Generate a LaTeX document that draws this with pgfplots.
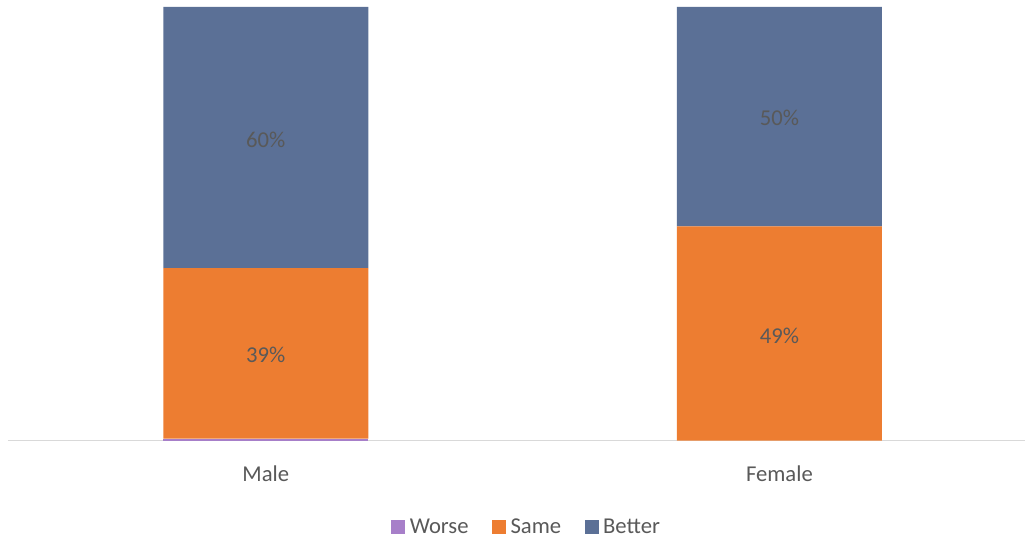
\documentclass[border=0pt]{standalone}
\usepackage{pgfplots}
\pgfplotsset{compat=1.18}
\usepackage{fontspec}
\setmainfont{Carlito}
\definecolor{cWorse}{HTML}{A77FC9}
\definecolor{cSame}{HTML}{ED7D31}
\definecolor{cBetter}{HTML}{5B7096}
\definecolor{cText}{HTML}{595959}
\definecolor{cAxis}{HTML}{D9D9D9}
\begin{document}
\begin{tikzpicture}[font=\fontsize{17pt}{20pt}\selectfont]
\pgfplotsset{
  base/.style={
    scale only axis, width=763.5pt, height=325.5pt,
    xmin=-0.502, xmax=1.479, ymin=0, ymax=100,
    axis y line=none, axis x line*=bottom,
    x axis line style={cAxis, line width=0.9pt, -},
    xtick={0,1}, xticklabels={Male,Female}, major tick length=0pt,
    xticklabel style={text=cText, yshift=-15.5pt, font=\fontsize{17pt}{20pt}\selectfont},
    clip=false,
  }
}
\begin{axis}[base, name=ax,
  ybar stacked, bar width=0.399,
  legend columns=-1,
  legend style={at={(0.51,-0.199)}, anchor=center, draw=none, fill=none,
    font=\fontsize{17pt}{20pt}\selectfont,
    text=cText,
    /tikz/every odd column/.append style={column sep=1.5pt},
    /tikz/every even column/.append style={column sep=15.5pt}},
  legend image code/.code={\fill[#1] (0pt,-5pt) rectangle (10.5pt,5.5pt);},
]
\addplot[fill=cWorse, draw=none] coordinates {(0,0.5) (1,0)};
\addlegendentry{Worse}
\addplot[fill=cSame, draw=none] coordinates {(0,39.3) (1,49.4)};
\addlegendentry{Same}
\addplot[fill=cBetter, draw=none] coordinates {(0,60.2) (1,50.6)};
\addlegendentry{Better}
\end{axis}
\begin{axis}[base, hide axis]
\addplot[draw=none, mark=none, nodes near coords, point meta=explicit symbolic,
  every node near coord/.append style={anchor=center, text=cText, font=\fontsize{17pt}{20pt}\selectfont}]
  table[meta=label] {
x y label
0 19.8 39\%
0 69.4 60\%
1 24.2 49\%
1 74.4 50\%
};
\end{axis}
\path[use as bounding box] ([xshift=-6pt,yshift=-74.25pt]ax.south west) rectangle ([yshift=5.25pt]ax.north east);
\end{tikzpicture}
\end{document}
